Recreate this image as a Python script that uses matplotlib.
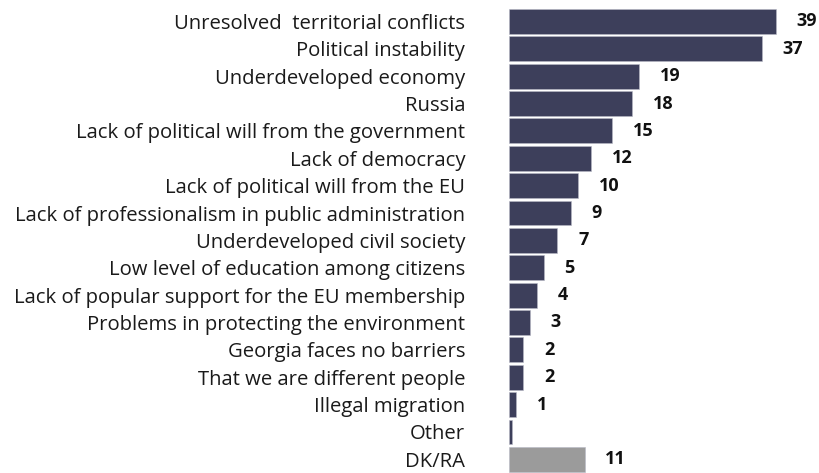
import matplotlib.pyplot as plt

plt.rcParams['font.family'] = ['Open Sans', 'DejaVu Sans']

barriers = [
    "Unresolved  territorial conflicts",
    "Political instability",
    "Underdeveloped economy",
    "Russia",
    "Lack of political will from the government",
    "Lack of democracy",
    "Lack of political will from the EU",
    "Lack of professionalism in public administration",
    "Underdeveloped civil society",
    "Low level of education among citizens",
    "Lack of popular support for the EU membership",
    "Problems in protecting the environment",
    "Georgia faces no barriers",
    "That we are different people",
    "Illegal migration",
    "Other",
    "DK/RA",
]
percent = [39, 37, 19, 18, 15, 12, 10, 9, 7, 5, 4, 3, 2, 2, 1, 0.4, 11]
shown = ["39", "37", "19", "18", "15", "12", "10", "9", "7", "5", "4", "3", "2", "2", "1", "", "11"]

dark = "#3d3f5b"
grey = "#9b9b9b"
colors = [dark] * (len(barriers) - 1) + [grey]

fig = plt.figure(figsize=(8.2, 4.73), dpi=100)
ax = fig.add_axes([509.5 / 820, 0.0, (820 - 509.5) / 820, 0.9835])

pos = list(range(len(barriers)))
bars = ax.barh(pos, percent, height=0.91, color=colors,
               edgecolor="#b8b9c6", linewidth=0.4)

for b, txt in zip(bars, shown):
    if txt:
        ax.annotate(txt, (b.get_width(), b.get_y() + b.get_height() / 2),
                    xytext=(15, 0), textcoords="offset points",
                    ha="left", va="center", fontsize=13, fontweight="bold",
                    color="#111111")

ax.set_xlim(0, 45.5)
ax.set_ylim(16.5, -0.5)
ax.set_yticks(pos)
ax.set_yticklabels(barriers, fontsize=14.6, color="#1a1a1a")
ax.tick_params(axis="y", length=0, pad=32)
ax.set_xticks([])
for s in ax.spines.values():
    s.set_visible(False)

fig.savefig("out.png", dpi=100)
